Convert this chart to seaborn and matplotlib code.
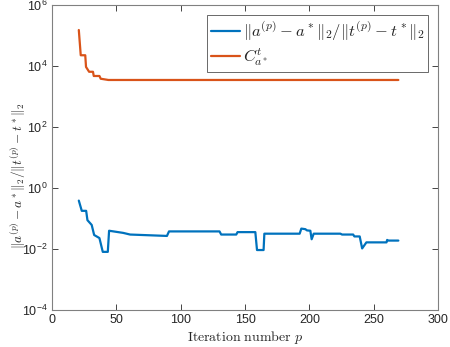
import seaborn as sns
import matplotlib.pyplot as plt
import pandas as pd
from matplotlib.ticker import LogLocator, NullLocator

# breakpoints (step-like curves)
iter_err = [21, 23.3, 26.7, 27.7, 31, 32.9, 37, 39.6, 43.5, 44.5, 55.4, 60.8, 89.4, 91,
            130.2, 131.5, 143.2, 144.2, 158, 159.3, 164.4, 165, 192.4, 193.7, 196.8, 198.1,
            200.7, 201.7, 203.3, 224, 225.3, 233.9, 234.9, 239, 240.9, 244.2, 259.8, 260.3,
            261.3, 269]
err_ratio = [0.39, 0.18, 0.18, 0.089, 0.062, 0.029, 0.023, 0.0081, 0.0081, 0.040, 0.034,
             0.030, 0.027, 0.038, 0.038, 0.030, 0.030, 0.036, 0.036, 0.0093, 0.0093, 0.032,
             0.032, 0.047, 0.045, 0.041, 0.040, 0.021, 0.032, 0.032, 0.030, 0.030, 0.026,
             0.026, 0.0105, 0.0166, 0.0166, 0.020, 0.019, 0.019]

iter_c = [21, 22.5, 26, 26.6, 29, 32, 32.6, 37, 38, 44, 269]
c_const = [1.55e5, 2.3e4, 2.3e4, 9.5e3, 6.6e3, 6.6e3, 4.8e3, 4.8e3, 3.9e3, 3.55e3, 3.55e3]

df1 = pd.DataFrame({"p": iter_err, "v": err_ratio})
df2 = pd.DataFrame({"p": iter_c, "v": c_const})

sns.set_style("white")
plt.rcParams["font.family"] = ["Liberation Sans", "DejaVu Sans"]
plt.rcParams["mathtext.fontset"] = "custom"
plt.rcParams["mathtext.rm"] = "Liberation Sans"
plt.rcParams["mathtext.it"] = "Liberation Sans:italic"

fig = plt.figure(figsize=(4.5, 3.47), dpi=100)
ax = fig.add_axes([0.115, 0.1066, 0.859, 0.878])

lab1 = r"$\|a^{(p)}-a^*\|_2/\|t^{(p)}-t^*\|_2$"
lab2 = r"$C^t_{a^*}$"
sns.lineplot(data=df1, x="p", y="v", ax=ax, color="#0072BD", lw=1.6, sort=False,
             estimator=None, label=lab1)
sns.lineplot(data=df2, x="p", y="v", ax=ax, color="#D95319", lw=1.6, sort=False,
             estimator=None, label=lab2)

ax.set_yscale("log")
ax.set_xlim(0, 300)
ax.set_ylim(1e-4, 1e6)
ax.set_xticks([0, 50, 100, 150, 200, 250, 300])
ax.yaxis.set_major_locator(LogLocator(base=100))
ax.yaxis.set_minor_locator(NullLocator())
ax.tick_params(direction="in", length=4, width=0.6, colors="#262626", labelsize=9,
               top=True, right=True, left=True, bottom=True, pad=3)
for s in ax.spines.values():
    s.set_color("#808080")
    s.set_linewidth(0.8)

ax.set_xlabel(r"$\mathrm{Iteration\ number}\ p$", fontsize=10, math_fontfamily="cm")
ax.xaxis.set_label_coords(0.5, -0.062)
ax.set_ylabel(lab1, fontsize=9.5, math_fontfamily="cm", color="#262626")
ax.yaxis.set_label_coords(-0.062, 0.44)

leg = ax.legend(loc="upper right", fontsize=11.9, frameon=True, fancybox=False,
                borderpad=0.2, handlelength=1.8, handletextpad=0.15, labelspacing=0.25,
                borderaxespad=0.6, bbox_to_anchor=(1.0, 1.0))
leg.get_frame().set_edgecolor("#262626")
leg.get_frame().set_linewidth(0.6)
for t in leg.get_texts():
    t.set_math_fontfamily("cm")

fig.savefig("out.png", dpi=100)
